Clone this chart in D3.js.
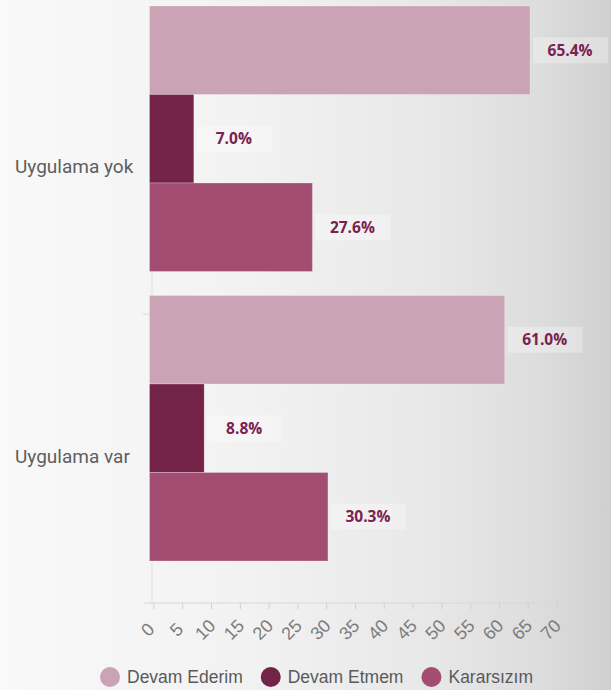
<!DOCTYPE html>
<html>
<head>
<meta charset="utf-8">
<script src="https://cdn.jsdelivr.net/npm/d3@7"></script>
<style>
html,body{margin:0;padding:0;background:#fff;}
svg{display:block;}
</style>
</head>
<body>
<svg id="chart" width="611" height="690"></svg>
<script>
const categories = ["Uygulama yok", "Uygulama var"];
const seriesNames = ["Devam Ederim", "Devam Etmem", "Kararsızım"];
const devamEderim = [65.4, 61.0];
const devamEtmem = [7.0, 8.8];
const kararsizim = [27.6, 30.3];
const seriesColors = ["#caa3b5", "#732248", "#a34d73"];
const xTicks = [0,5,10,15,20,25,30,35,40,45,50,55,60,65,70];

const seriesValues = [devamEderim, devamEtmem, kararsizim];
const data = [];
categories.forEach((c, ci) => {
  seriesNames.forEach((s, si) => {
    data.push({cat: c, series: s, value: seriesValues[si][ci], color: seriesColors[si]});
  });
});

const W = 611, H = 690;
const svg = d3.select("#chart");

const defs = svg.append("defs");
const g0 = defs.append("linearGradient").attr("id","bg").attr("x1","0").attr("x2","1").attr("y1","0").attr("y2","0");
[[0,"#f9f9f9"],[0.4,"#f2f2f2"],[0.7,"#e8e8e8"],[0.88,"#dddddd"],[1,"#cfcfcf"]].forEach(s=>{
  g0.append("stop").attr("offset", s[0]).attr("stop-color", s[1]);
});
svg.append("rect").attr("width", W).attr("height", H).attr("fill","url(#bg)");

const x = d3.scaleLinear().domain([0, 70]).range([153.5, 556.5]);
const y0 = d3.scaleBand().domain(categories).range([6, 561]).paddingInner(0.083).paddingOuter(0);
const y1 = d3.scaleBand().domain(seriesNames).range([0, y0.bandwidth()]);

const axisY = 603;

svg.append("line")
  .attr("x1", x(0) - 1.5).attr("x2", x(0) - 1.5)
  .attr("y1", y0.range()[0]).attr("y2", axisY)
  .attr("stroke", "#e2e2e2").attr("stroke-width", 1);
svg.append("line")
  .attr("x1", x(0) - 11).attr("x2", x(0) - 1.5)
  .attr("y1", y0(categories[1]) + y0.bandwidth()*0.07).attr("y2", y0(categories[1]) + y0.bandwidth()*0.07)
  .attr("stroke", "#dcdcdc").attr("stroke-width", 1);

const xAxis = d3.axisBottom(x).tickValues(xTicks).tickSize(6).tickPadding(0).tickFormat(d3.format("d"));
const ax = svg.append("g").attr("transform", `translate(0,${axisY})`).call(xAxis);
ax.select(".domain").remove();
ax.append("line").attr("x1", x(0) - 10).attr("x2", x(70) + 8).attr("y1", 0).attr("y2", 0)
  .attr("stroke", "#d8d8d8");
ax.selectAll(".tick line").attr("stroke", "#cfcfcf");
ax.selectAll(".tick text")
  .attr("fill", "#7c7c7c")
  .attr("font-family", "'Liberation Sans', Arial, sans-serif")
  .attr("font-size", 18)
  .attr("text-anchor", "middle")
  .attr("dy", null)
  .attr("y", 0)
  .attr("transform", "translate(-2,31) rotate(-45)");

const groups = svg.append("g").selectAll("g").data(categories).join("g")
  .attr("transform", c => `translate(0,${y0(c)})`);

groups.selectAll("rect.bar").data(c => data.filter(d => d.cat === c)).join("rect")
  .attr("class","bar")
  .attr("x", x(0) - 4)
  .attr("y", d => y1(d.series))
  .attr("width", d => x(d.value) - x(0) + 4)
  .attr("height", y1.bandwidth())
  .attr("fill", d => d.color)
  .attr("stroke", "rgba(255,255,255,0.25)")
  .attr("stroke-width", 1);

const lbl = groups.selectAll("g.lbl").data(c => data.filter(d => d.cat === c)).join("g")
  .attr("class","lbl")
  .attr("transform", d => `translate(${x(d.value) + 3},${y1(d.series) + y1.bandwidth()/2})`);
lbl.append("rect")
  .attr("x", 0).attr("y", -13).attr("width", 75).attr("height", 26)
  .attr("fill", "rgba(255,255,255,0.3)");
lbl.append("text")
  .attr("x", 37).attr("y", 5.5)
  .attr("text-anchor", "middle")
  .attr("font-family", "'Open Sans', sans-serif")
  .attr("font-weight", 700)
  .attr("font-size", 15.5)
  .attr("fill", "#7a2150")
  .text(d => d.value.toFixed(1) + "%");

svg.append("g").selectAll("text").data(categories).join("text")
  .attr("x", 15)
  .attr("y", c => y0(c) + y0.bandwidth()*0.63)
  .attr("font-family", "Roboto, sans-serif")
  .attr("font-size", 19)
  .attr("fill", "#5e5e5e")
  .text(c => c);

const leg = svg.append("g");
let lx = 110;
const ly = 677;
seriesNames.forEach((s, i) => {
  leg.append("circle").attr("cx", lx).attr("cy", ly).attr("r", 10).attr("fill", seriesColors[i]);
  const t = leg.append("text").attr("x", lx + 17).attr("y", ly + 6)
    .attr("font-family", "'Liberation Sans', Arial, sans-serif")
    .attr("font-size", 17.5)
    .attr("fill", "#5a5a5a")
    .text(s);
  lx = lx + 17 + t.node().getComputedTextLength() + 28;
});
</script>
</body>
</html>
